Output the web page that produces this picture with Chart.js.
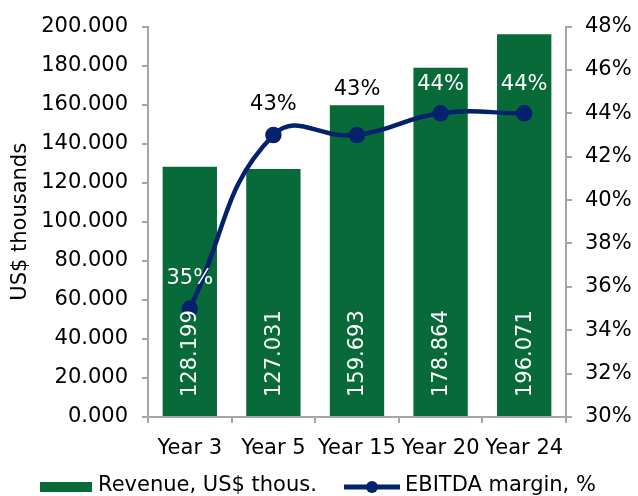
<!DOCTYPE html>
<html>
<head>
<meta charset="utf-8">
<script src="https://cdn.jsdelivr.net/npm/chart.js@4.4.1/dist/chart.umd.min.js"></script>
<style>
  html, body { margin: 0; padding: 0; background: #fff; }
  #wrap { width: 638px; height: 496px; }
</style>
</head>
<body>
<div id="wrap"><canvas id="myChart" width="638" height="496"></canvas></div>
<script>
var years = ['Year 3', 'Year 5', 'Year 15', 'Year 20', 'Year 24'];
var revenue = [128.199, 127.031, 159.693, 178.864, 196.071];
var ebitda = [35, 43, 43, 44, 44];
var revTicks = [0, 200, 20];   // min, max, step
var marginTicks = [30, 48, 2];

var green = '#076a38';
var navy = '#03216c';
var font = '"DejaVu Sans", Verdana, sans-serif';
var fsize = 21;
var labelLift = [30, 30, 45, 29, 29];  // px above point

/* 数据标签 + 图例 */
var labelPlugin = {
    id: 'labels',
    afterDatasetsDraw: function(chart) {
        var ctx = chart.ctx;
        var bars = chart.getDatasetMeta(0).data;
        var pts = chart.getDatasetMeta(1).data;
        ctx.save();
        ctx.font = fsize + 'px ' + font;
        // bar values, rotated
        bars.forEach(function(b, i) {
            ctx.save();
            ctx.translate(b.x, b.base - 19);
            ctx.rotate(-Math.PI / 2);
            ctx.fillStyle = '#fff';
            ctx.textAlign = 'left';
            ctx.textBaseline = 'middle';
            ctx.fillText(revenue[i].toFixed(3), 0, 1);
            ctx.restore();
        });
        // margin labels above points
        pts.forEach(function(p, i) {
            var y = p.y - labelLift[i];
            ctx.fillStyle = y > bars[i].y ? '#fff' : '#000';
            ctx.textAlign = 'center';
            ctx.textBaseline = 'middle';
            ctx.fillText(ebitda[i] + '%', p.x, y);
        });
        ctx.restore();
    },
    afterDraw: function(chart) {
        var ctx = chart.ctx;
        ctx.save();
        ctx.font = fsize + 'px ' + font;
        ctx.fillStyle = green;
        ctx.fillRect(40, 482, 52, 10);
        ctx.fillStyle = '#000';
        ctx.textBaseline = 'alphabetic';
        ctx.fillText(chart.data.datasets[0].label, 98, 491);
        ctx.strokeStyle = navy;
        ctx.lineWidth = 5;
        ctx.beginPath();
        ctx.moveTo(344, 487);
        ctx.lineTo(400, 487);
        ctx.stroke();
        ctx.fillStyle = navy;
        ctx.beginPath();
        ctx.arc(372, 487, 6, 0, Math.PI * 2);
        ctx.fill();
        ctx.fillStyle = '#000';
        ctx.fillText(chart.data.datasets[1].label, 405, 491);
        ctx.restore();
    }
};

var ctx = document.getElementById('myChart').getContext('2d');
var myChart = new Chart(ctx, {
    data: {
        labels: years,
        datasets: [{
            type: 'bar',
            label: 'Revenue, US$ thous.',
            data: revenue,
            backgroundColor: green,
            yAxisID: 'y',
            barPercentage: 0.65,
            categoryPercentage: 1,
            order: 2
        }, {
            type: 'line',
            label: 'EBITDA margin, %',
            data: ebitda,
            borderColor: navy,
            backgroundColor: navy,
            borderWidth: 4.5,
            pointRadius: 6,
            pointHoverRadius: 6,
            tension: 0.45,
            yAxisID: 'y1',
            order: 1
        }]
    },
    options: {
        responsive: false,
        animation: false,
        layout: { padding: { top: 23, left: 0, right: 0, bottom: 0 } },
        plugins: {
            legend: { display: false },
            tooltip: { enabled: false }
        },
        scales: {
            x: {
                grid: { drawOnChartArea: false, tickLength: 6, color: '#a6a6a6', lineWidth: 2, offset: true },
                border: { color: '#a6a6a6', width: 2 },
                ticks: { color: '#000', font: { family: font, size: fsize }, autoSkip: false, maxRotation: 0, padding: 13 },
                afterFit: function(s) { s.height = 79; }
            },
            y: {
                position: 'left',
                min: revTicks[0], max: revTicks[1],
                grid: { drawOnChartArea: false, tickLength: 6, color: '#a6a6a6', lineWidth: 2 },
                border: { color: '#a6a6a6', width: 2 },
                ticks: {
                    stepSize: revTicks[2],
                    color: '#000',
                    font: { family: font, size: fsize },
                    padding: 14,
                    callback: function(v) { return v.toFixed(3); }
                },
                title: { display: true, text: 'US$ thousands', color: '#000', font: { family: font, size: fsize }, padding: { top: 8, bottom: 0 } },
                afterFit: function(s) { s.width = 148; }
            },
            y1: {
                position: 'right',
                min: marginTicks[0], max: marginTicks[1],
                grid: { drawOnChartArea: false, tickLength: 6, color: '#a6a6a6', lineWidth: 2 },
                border: { color: '#a6a6a6', width: 2 },
                ticks: {
                    stepSize: marginTicks[2],
                    color: '#000',
                    font: { family: font, size: fsize },
                    padding: 13,
                    callback: function(v) { return v + '%'; }
                },
                afterFit: function(s) { s.width = 72; }
            }
        }
    },
    plugins: [labelPlugin]
});
</script>
</body>
</html>
